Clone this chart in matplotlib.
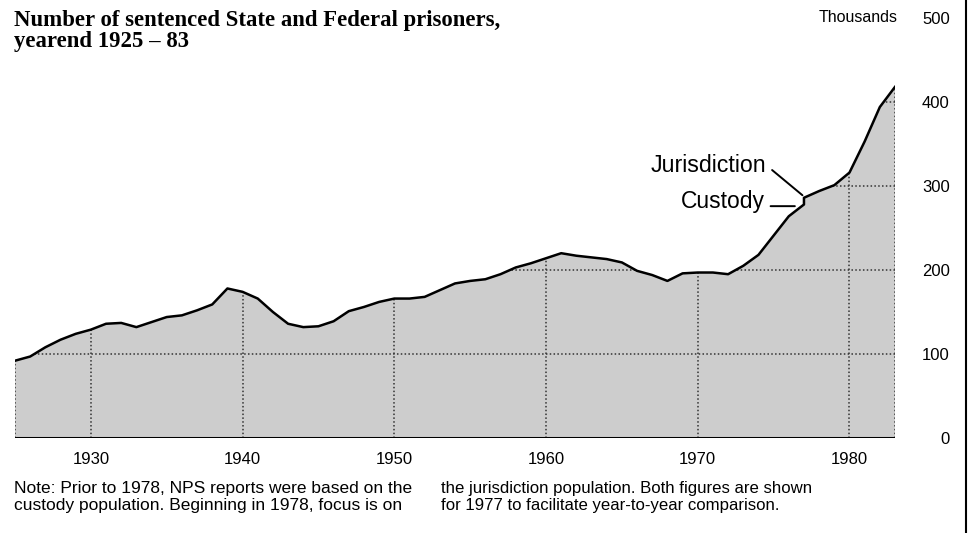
import matplotlib
matplotlib.use("Agg")
import matplotlib.pyplot as plt
from matplotlib.lines import Line2D

# yearend sentenced prisoners, thousands
years = list(range(1925, 1978))
custody = [92, 97, 108, 117, 124, 129, 136, 137, 132, 138,
           144, 146, 152, 159, 178, 174, 166, 150, 136, 132,
           133, 139, 151, 156, 162, 166, 166, 168, 176, 184,
           187, 189, 195, 203, 208, 214, 220, 217, 215, 213,
           209, 199, 194, 187, 196, 197, 197, 195, 205, 218,
           241, 264, 278]
jur_years = [1977, 1978, 1979, 1980, 1981, 1982, 1983]
jurisdiction = [286, 294, 301, 316, 353, 394, 418]

x_ticks = [1930, 1940, 1950, 1960, 1970, 1980]
y_ticks = [0, 100, 200, 300, 400, 500]

title = "Number of sentenced State and Federal prisoners,\nyearend 1925 \u2013 83"
note_left = ("Note: Prior to 1978, NPS reports were based on the\n"
             "custody population. Beginning in 1978, focus is on")
note_right = ("the jurisdiction population. Both figures are shown\n"
              "for 1977 to facilitate year-to-year comparison.")

SANS = "Liberation Sans"
SERIF = "Liberation Serif"

xs = years + jur_years
ys = custody + jurisdiction

fig = plt.figure(figsize=(9.69, 5.33), dpi=100)
ax = fig.add_axes([15 / 969, 95 / 533, 880 / 969, 420 / 533])
ax.set_xlim(1925, 1983)
ax.set_ylim(0, 500)

# stippled area
poly = ax.fill([xs[0]] + xs + [xs[-1]], [0] + ys + [0],
               facecolor="#cdcdcd", edgecolor="none", zorder=1)[0]

# dotted grid, only visible inside the shaded area
for yr in x_ticks + [1925, 1983]:
    ln = ax.axvline(yr, color="#333333", lw=1.1, ls=(0, (1, 1.5)), zorder=2)
    ln.set_clip_path(poly)
for v in y_ticks[1:]:
    ln = ax.axhline(v, color="#333333", lw=1.1, ls=(0, (1, 1.5)), zorder=2)
    ln.set_clip_path(poly)

ax.plot(xs, ys, color="black", lw=1.8, solid_joinstyle="round", zorder=3)
ax.plot([1925, 1983], [0, 0], color="black", lw=2.2, zorder=3)

for s in ax.spines.values():
    s.set_visible(False)

ax.set_xticks(x_ticks)
ax.set_xticklabels([str(t) for t in x_ticks], family=SANS, fontsize=12)
ax.tick_params(axis="x", length=0, pad=10)
ax.yaxis.tick_right()
ax.set_yticks(y_ticks)
ax.set_yticklabels([str(t) for t in y_ticks], family=SANS, fontsize=12)
ax.tick_params(axis="y", length=0, pad=39.5)
for lbl in ax.get_yticklabels():
    lbl.set_ha("right")

ax.text(1.003, 1.0, "Thousands", transform=ax.transAxes, ha="right",
        va="center", family=SANS, fontsize=11.5)

# labels for the 1977 break
ax.text(1974.5, 325, "Jurisdiction", ha="right", va="center",
        family=SANS, fontsize=16.7)
ax.annotate("", xy=(1976.9, 289), xytext=(1974.9, 319),
            arrowprops=dict(arrowstyle="-", color="black", lw=1.4,
                            shrinkA=0, shrinkB=0))
ax.text(1974.45, 281, "Custody", ha="right", va="center",
        family=SANS, fontsize=16.5)
ax.annotate("", xy=(1976.4, 276), xytext=(1974.8, 276),
            arrowprops=dict(arrowstyle="-", color="black", lw=1.4,
                            shrinkA=0, shrinkB=0))

fig.text(14 / 969, 1 - 10 / 533, title, ha="left", va="top", family=SERIF,
         fontweight="bold", fontsize=16.4, linespacing=1.0)
fig.text(14 / 969, 1 - 497 / 533, note_left, ha="left", va="center",
         family=SANS, fontsize=12.5, linespacing=1.12)
fig.text(441 / 969, 1 - 497 / 533, note_right, ha="left", va="center",
         family=SANS, fontsize=12.05, linespacing=1.16)

# page edge at the right
fig.add_artist(Line2D([966 / 969, 966 / 969], [0, 1], color="black", lw=1.5,
                      transform=fig.transFigure))

fig.savefig("out.png", dpi=100)
